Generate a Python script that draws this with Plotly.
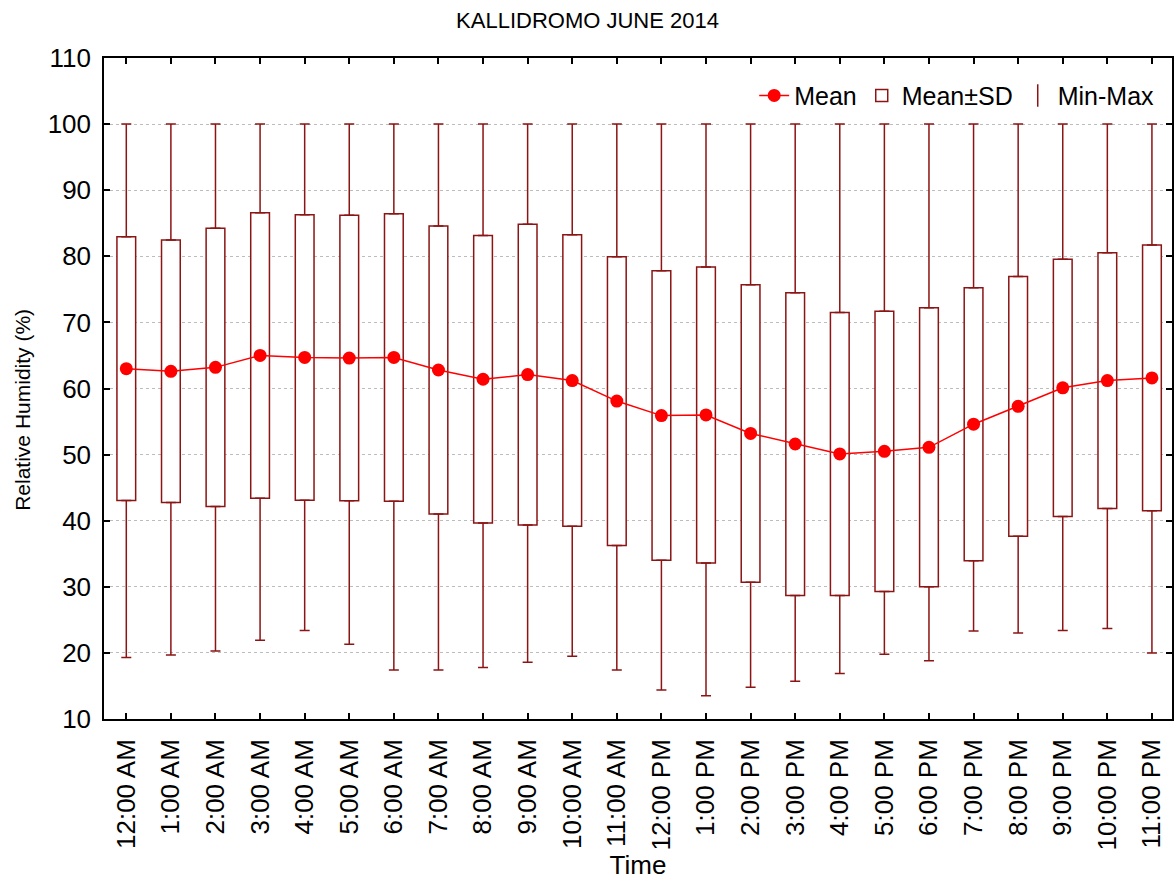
import plotly.graph_objects as go

hours = ["12:00 AM", "1:00 AM", "2:00 AM", "3:00 AM", "4:00 AM", "5:00 AM",
         "6:00 AM", "7:00 AM", "8:00 AM", "9:00 AM", "10:00 AM", "11:00 AM",
         "12:00 PM", "1:00 PM", "2:00 PM", "3:00 PM", "4:00 PM", "5:00 PM",
         "6:00 PM", "7:00 PM", "8:00 PM", "9:00 PM", "10:00 PM", "11:00 PM"]

mean_rh = [63.0, 62.6, 63.2, 65.0, 64.7, 64.6, 64.7, 62.8, 61.4, 62.1, 61.2, 58.1,
           55.9, 56.0, 53.2, 51.6, 50.1, 50.5, 51.1, 54.6, 57.3, 60.1, 61.2, 61.6]
sd_rh = [19.95, 19.85, 21.05, 21.6, 21.6, 21.6, 21.75, 21.8, 21.75, 22.75, 22.05, 21.85,
         21.9, 22.4, 22.5, 22.9, 21.4, 21.2, 21.1, 20.65, 19.65, 19.45, 19.35, 20.1]
min_rh = [19.3, 19.7, 20.3, 21.9, 23.4, 21.3, 17.4, 17.4, 17.8, 18.6, 19.5, 17.4,
          14.4, 13.5, 14.8, 15.7, 16.9, 19.8, 18.8, 23.3, 23.0, 23.4, 23.7, 20.0]
max_rh = [100.0] * 24

box_color = "#8b1414"
mean_color = "#ff0000"
font_family = "Liberation Sans, Arial, sans-serif"

lower_box = [m - s for m, s in zip(mean_rh, sd_rh)]
upper_box = [m + s for m, s in zip(mean_rh, sd_rh)]
box_height = [2 * s for s in sd_rh]
up_whisk = [mx - u for mx, u in zip(max_rh, upper_box)]
low_whisk = [lb - mn for lb, mn in zip(lower_box, min_rh)]

fig = go.Figure()

fig.add_trace(go.Bar(
    x=hours, y=box_height, base=lower_box, width=0.42,
    marker=dict(color="white", line=dict(color=box_color, width=1.5)),
    name="Mean±SD", legendrank=2, hoverinfo="skip",
))

# Upper whisker: from mean+SD to max
fig.add_trace(go.Scatter(
    x=hours, y=upper_box, mode="markers", marker=dict(size=0.1, opacity=0),
    error_y=dict(type="data", symmetric=False, array=up_whisk,
                 arrayminus=[0] * 24, color=box_color, thickness=1.5, width=5),
    showlegend=False, hoverinfo="skip",
))
# Lower whisker: from min to mean-SD
fig.add_trace(go.Scatter(
    x=hours, y=lower_box, mode="markers", marker=dict(size=0.1, opacity=0),
    error_y=dict(type="data", symmetric=False, array=[0] * 24,
                 arrayminus=low_whisk, color=box_color, thickness=1.5, width=5),
    showlegend=False, hoverinfo="skip",
))
# Legend entry for Min-Max
fig.add_trace(go.Scatter(
    x=[None], y=[None], mode="markers", name="Min-Max", legendrank=3,
    marker=dict(symbol="line-ns-open", size=18, color=box_color,
                line=dict(color=box_color, width=1.5)),
))

fig.add_trace(go.Scatter(
    x=hours, y=mean_rh, mode="lines+markers", name="Mean", legendrank=1,
    line=dict(color=mean_color, width=1.5),
    marker=dict(color=mean_color, size=13),
))

fig.update_layout(
    width=1175, height=882,
    margin=dict(l=103.5, r=3, t=57.5, b=163, autoexpand=False),
    paper_bgcolor="white", plot_bgcolor="white",
    font=dict(family=font_family, size=26, color="black"),
    title=dict(text="KALLIDROMO JUNE 2014", x=0.5, xanchor="center",
               y=0.977, yref="container", yanchor="middle", font=dict(size=22)),
    showlegend=True,
    legend=dict(orientation="h", x=0.988, xanchor="right", y=0.943, yanchor="middle",
                bgcolor="rgba(0,0,0,0)", font=dict(size=25), itemwidth=30,
                traceorder="normal", tracegroupgap=0),
    bargap=0.5,
    annotations=[dict(text="Relative Humidity (%)", textangle=-90,
                      xref="paper", yref="paper", x=-0.0763, y=0.467,
                      xanchor="center", yanchor="middle", showarrow=False,
                      font=dict(size=21))],
)

fig.update_xaxes(
    type="category", range=[-0.5, 23.45], tickangle=-90, automargin=False,
    showline=True, linecolor="black", linewidth=1.5, mirror="ticks",
    ticks="inside", ticklen=6, tickwidth=1.5, tickcolor="black",
    showgrid=False, zeroline=False,
    tickfont=dict(size=26), ticklabelstandoff=8,
    title=dict(text="Time", font=dict(size=26), standoff=6),
)
fig.update_yaxes(
    range=[10, 110], dtick=10, tick0=10, automargin=False,
    showline=True, linecolor="black", linewidth=1.5, mirror="ticks",
    ticks="inside", ticklen=6, tickwidth=1.5, tickcolor="black",
    showgrid=True, gridcolor="#bdbdbd", griddash="dot", gridwidth=1,
    zeroline=False, tickfont=dict(size=26), ticklabelstandoff=6,
)

fig.write_html(
    "out.html",
    config={"displayModeBar": False},
    post_script="document.body.style.margin='0px';document.body.style.overflow='hidden';",
)
